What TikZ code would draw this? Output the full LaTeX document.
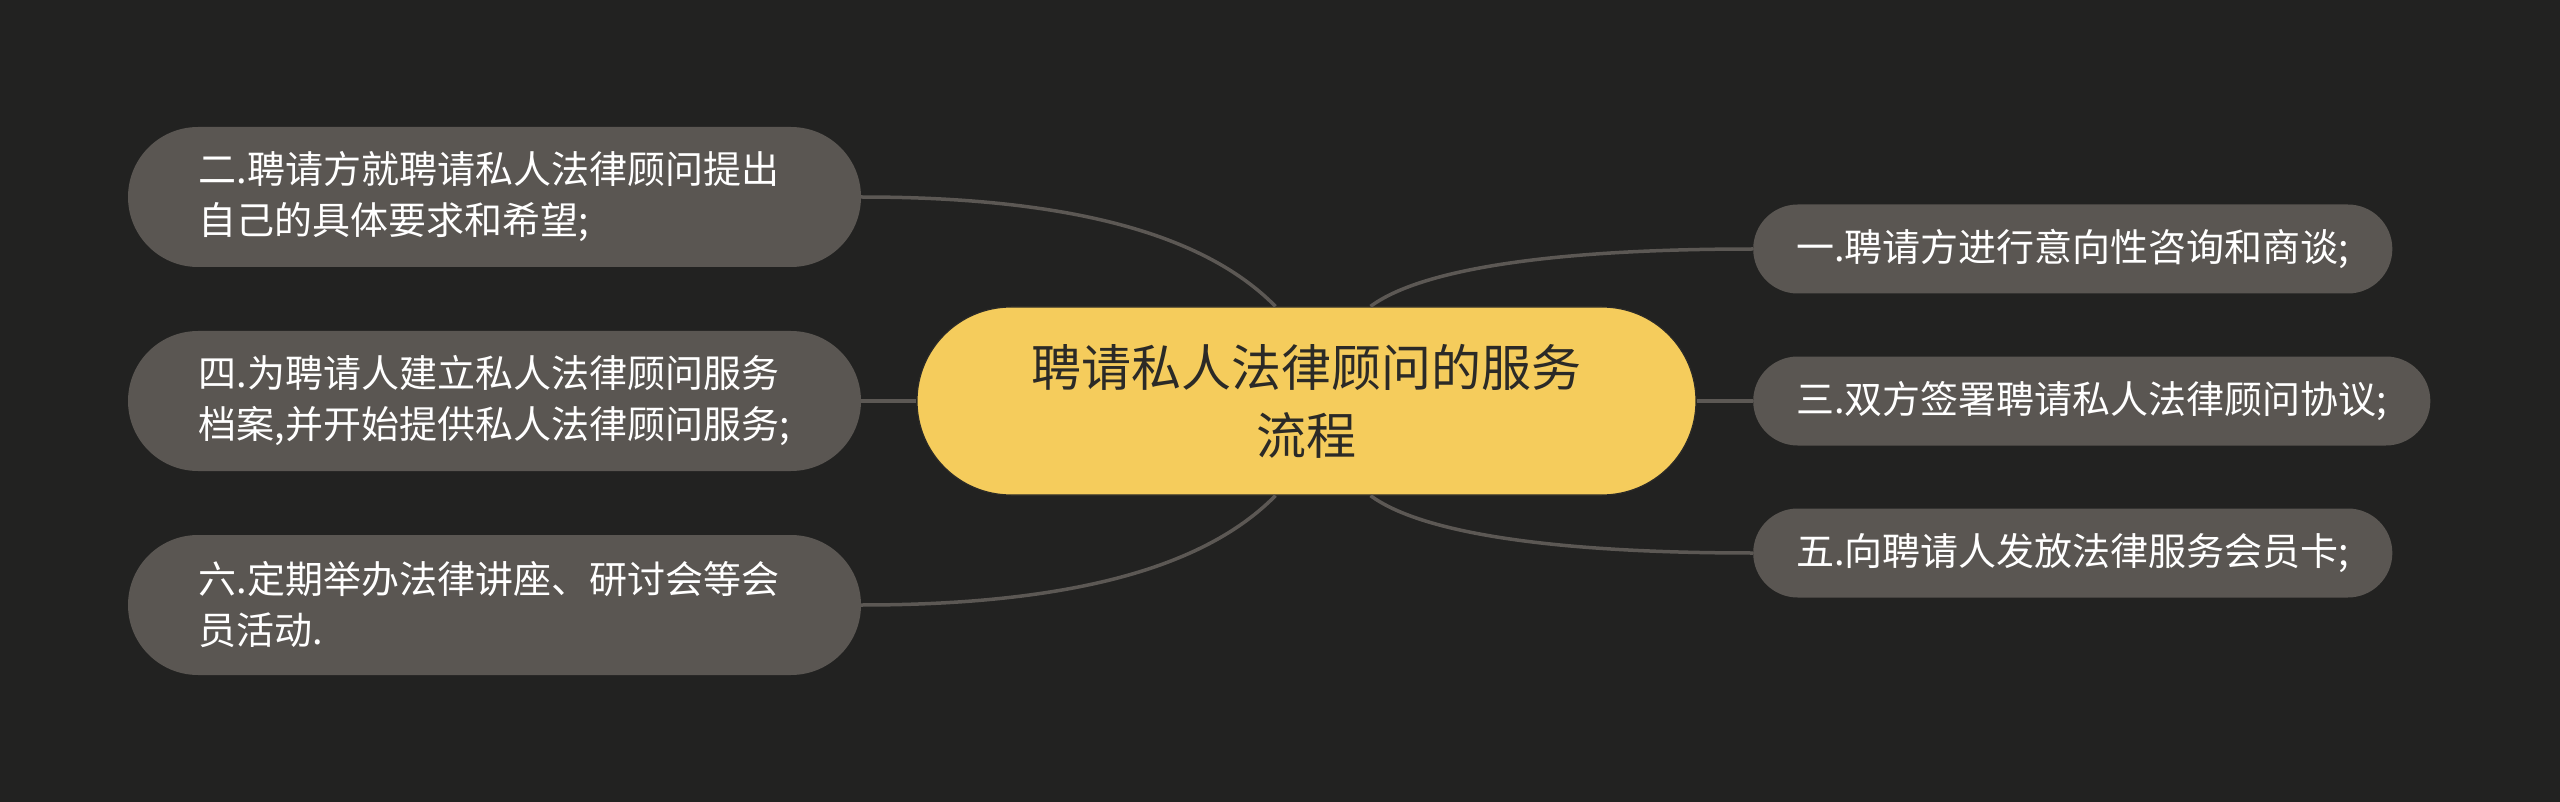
\documentclass[tikz,border=0pt]{standalone}
\usepackage{fontspec}
\setmainfont{Noto Sans CJK SC}
\usetikzlibrary{calc}
\definecolor{bg}{HTML}{222221}
\definecolor{boxgray}{HTML}{5A5652}
\definecolor{linegray}{HTML}{5C5854}
\definecolor{mainyellow}{HTML}{F5CC5C}
\definecolor{maintext}{HTML}{2B2A27}
\tikzset{
  leafbox/.style={rectangle, rounded corners=#1, fill=boxgray, text=white, inner sep=0pt, align=left},
  centerbox/.style={rectangle, rounded corners=94pt, fill=mainyellow, draw=maintext, line width=1.2pt,
     text=maintext, align=center, minimum width=779pt, minimum height=188pt, inner sep=0pt,
     font=\fontsize{50pt}{68pt}\selectfont},
  lefttxt/.style={leafbox=70pt, minimum width=733pt, minimum height=140pt, text width=592pt,
     font=\fontsize{38pt}{51pt}\selectfont},
  righttxt/.style={leafbox=44.5pt, minimum height=89pt, inner xsep=43pt,
     font=\fontsize{38pt}{51pt}\selectfont},
  conn/.style={draw=linegray, line width=3.5pt}
}
\begin{document}
\begin{tikzpicture}[x=1pt,y=-1pt]
\fill[bg] (0,0) rectangle (2560,802);
\useasboundingbox (0,0) rectangle (2560,802);

\node[centerbox] (c) at (1306.5,401) {聘请私人法律顾问的服务\\流程};

\node[lefttxt] (l1) at (494.5,197) {二.聘请方就聘请私人法律顾问提出\\自己的具体要求和希望;};
\node[lefttxt] (l2) at (494.5,401) {四.为聘请人建立私人法律顾问服务\\档案,并开始提供私人法律顾问服务;};
\node[lefttxt] (l3) at (494.5,605) {六.定期举办法律讲座、研讨会等会\\员活动.};

\node[righttxt, anchor=west] (r1) at (1753,249) {一.聘请方进行意向性咨询和商谈;};
\node[righttxt, anchor=west] (r2) at (1753,401) {三.双方签署聘请私人法律顾问协议;};
\node[righttxt, anchor=west] (r3) at (1753,553) {五.向聘请人发放法律服务会员卡;};

\draw[conn] (l1.east) .. controls ($(l1.east)+(240,0)$) and ($(c.north)+(-90,-60)$) .. ($(c.north)+(-31,0)$);
\draw[conn] (l3.east) .. controls ($(l3.east)+(240,0)$) and ($(c.south)+(-90,60)$) .. ($(c.south)+(-31,0)$);
\draw[conn] (l2.east) -- (c.west);
\draw[conn] ($(c.north)+(64,0)$) .. controls ($(c.north)+(114,-37)$) and ($(r1.west)+(-203,0)$) .. (r1.west);
\draw[conn] ($(c.south)+(64,0)$) .. controls ($(c.south)+(114,37)$) and ($(r3.west)+(-203,0)$) .. (r3.west);
\draw[conn] (c.east) -- (r2.west);
\end{tikzpicture}
\end{document}
